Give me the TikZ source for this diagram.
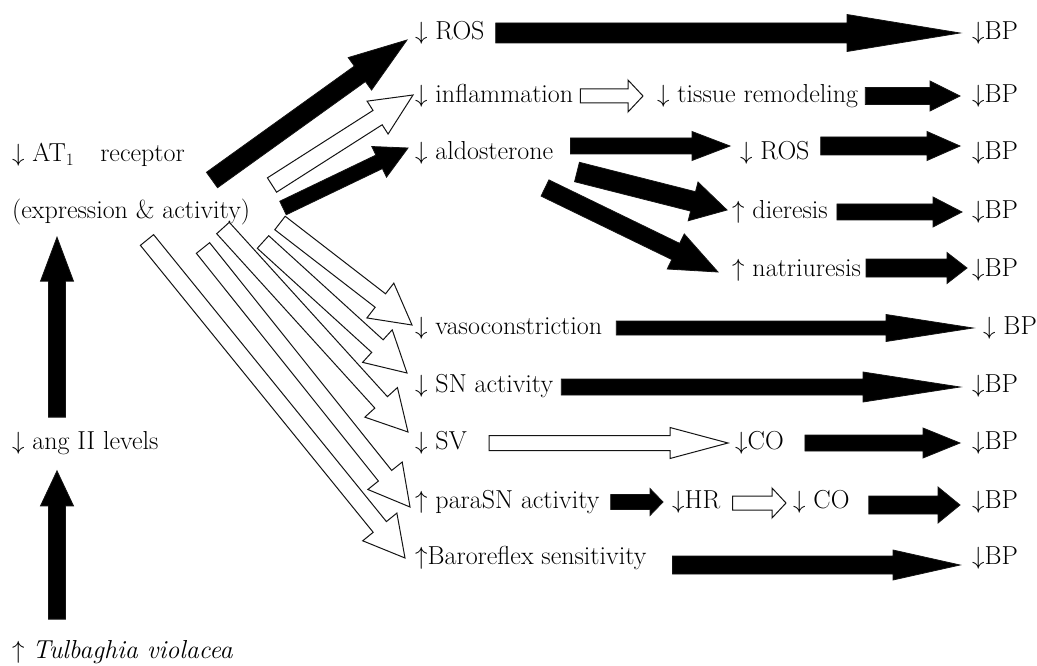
\documentclass[tikz,border=0pt]{standalone}
\usepackage{amsmath,amssymb}
\usetikzlibrary{calc}
\definecolor{fill_dark}{RGB}{0,0,0}
\definecolor{edge_dark}{RGB}{20,20,20}

% block arrow: style, tail, tip, shaft width, head width, head length
\newcommand{\blockarrow}[6]{%
  \coordinate (ba-t) at (#2);
  \coordinate (ba-p) at (#3);
  \coordinate (ba-h) at ($(ba-p)!#6pt!(ba-t)$);
  \draw[#1] ($(ba-t)!0.5*#4pt!90:(ba-p)$) -- ($(ba-h)!0.5*#4pt!90:(ba-p)$)
    -- ($(ba-h)!0.5*#5pt!90:(ba-p)$) -- (ba-p)
    -- ($(ba-h)!0.5*#5pt!-90:(ba-p)$) -- ($(ba-h)!0.5*#4pt!-90:(ba-p)$)
    -- ($(ba-t)!0.5*#4pt!-90:(ba-p)$) -- cycle;
}

\begin{document}
\begin{tikzpicture}[x=1pt,y=-1pt]
    \tikzstyle{term}=[anchor=west, inner sep=0pt, text=black, font=\fontsize{26}{30}\selectfont]
    \tikzstyle{fullarr}=[fill=fill_dark, draw=edge_dark, line width=0.8pt, line join=miter]
    \tikzstyle{hollowarr}=[fill=white, draw=edge_dark, line width=1pt, line join=miter]
    \tikzstyle{openarr}=[draw=edge_dark, line width=1pt, line join=miter]

    \fill[white] (0,0) rectangle (1037,666);
    \useasboundingbox (0,0) rectangle (1037,666);

    % left column
    \node[term] (at1)  at (12,155) {$\downarrow$ AT$_1$\quad receptor};
    \node[term] (expr) at (12,212) {(expression \& activity)};
    \node[term] (ang)  at (12,443) {$\downarrow$ ang II levels};
    \node[term] (tulb) at (12,652) {$\uparrow$ \textit{Tulbaghia violacea}};

    % middle column
    \node[term] (ros)  at (415,33)  {$\downarrow$ ROS};
    \node[term] (infl) at (415,96)  {$\downarrow$ inflammation};
    \node[term] (aldo) at (415,153) {$\downarrow$ aldosterone};
    \node[term] (vaso) at (415,328) {$\downarrow$ vasoconstriction};
    \node[term] (sn)   at (415,386) {$\downarrow$ SN activity};
    \node[term] (sv)   at (415,443) {$\downarrow$ SV};
    \node[term] (para) at (415,502) {$\uparrow$ paraSN activity};
    \node[term] (baro) at (415,558) {$\uparrow$Baroreflex sensitivity};

    \node[term] (tissue) at (657,96)  {$\downarrow$ tissue remodeling};
    \node[term] (ros2)   at (740,153) {$\downarrow$ ROS};
    \node[term] (dier)   at (732,212) {$\uparrow$ dieresis};
    \node[term] (natr)   at (732,270) {$\uparrow$ natriuresis};
    \node[term] (co1)    at (735,443) {$\downarrow$CO};
    \node[term] (hr)     at (672,502) {$\downarrow$HR};
    \node[term] (co2)    at (793,502) {$\downarrow$ CO};

    % right column
    \node[term] (bp1)  at (972,33)  {$\downarrow$BP};
    \node[term] (bp2)  at (972,96)  {$\downarrow$BP};
    \node[term] (bp3)  at (972,153) {$\downarrow$BP};
    \node[term] (bp4)  at (972,212) {$\downarrow$BP};
    \node[term] (bp5)  at (972,270) {$\downarrow$BP};
    \node[term] (bp6)  at (983,328) {$\downarrow$ BP};
    \node[term] (bp7)  at (972,386) {$\downarrow$BP};
    \node[term] (bp8)  at (972,443) {$\downarrow$BP};
    \node[term] (bp9)  at (972,502) {$\downarrow$BP};
    \node[term] (bp10) at (972,558) {$\downarrow$BP};

    % free tails of the fanned arrows
    \coordinate (t-ros)  at (212,180);
    \coordinate (t-infl) at (272,185);
    \coordinate (t-aldo) at (283,208);
    \coordinate (t-vaso) at (280,223);
    \coordinate (t-sn)   at (263,242);
    \coordinate (t-sv)   at (223,228);
    \coordinate (t-para) at (203,248);
    \coordinate (t-baro) at (147,240);
    \coordinate (t-dier) at (577,172);
    \coordinate (t-natr) at (545,188);

    % vertical arrows
    \blockarrow{fullarr}{$(tulb.north west)+(45,-21)$}{$(ang.south west)+(45,16)$}{17}{33}{35}
    \blockarrow{fullarr}{$(ang.north west)+(45,-14)$}{$(expr.south west)+(45,12)$}{17}{33}{44}

    % fan out of AT1
    \blockarrow{fullarr}{t-ros}{$(ros.west)+(-8,7)$}{19}{40}{58}
    \blockarrow{hollowarr}{t-infl}{$(infl.west)+(-2,-1)$}{17}{39}{42}
    \blockarrow{fullarr}{t-aldo}{$(aldo.west)+(-7,-5)$}{15}{34}{32}
    \blockarrow{openarr}{t-baro}{$(baro.west)+(-10,0)$}{17}{44}{40}
    \blockarrow{openarr}{t-para}{$(para.west)+(-5,5)$}{17}{44}{40}
    \blockarrow{openarr}{t-sv}{$(sv.west)+(-7,-11)$}{17}{44}{40}
    \blockarrow{openarr}{t-sn}{$(sn.west)+(-8,-13)$}{17}{44}{40}
    \blockarrow{openarr}{t-vaso}{$(vaso.west)+(-3,-3)$}{17}{44}{40}

    % aldosterone branches
    \blockarrow{fullarr}{t-dier}{$(dier.west)+(-5,-2)$}{20}{40}{35}
    \blockarrow{fullarr}{t-natr}{$(natr.west)+(-14,2)$}{18}{39}{47}

    % rows
    \blockarrow{fullarr}{$(ros.east)+(11,0)$}{$(bp1.west)+(-12,0)$}{20}{37}{113}
    \blockarrow{hollowarr}{$(infl.east)+(7,0)$}{$(tissue.west)+(-14,0)$}{14}{32}{15}
    \blockarrow{fullarr}{$(tissue.east)+(7,0)$}{$(bp2.west)+(-12,0)$}{17}{30}{30}
    \blockarrow{fullarr}{$(aldo.east)+(17,-7)$}{$(ros2.west)+(-10,-7)$}{16}{29}{38}
    \blockarrow{fullarr}{$(ros2.east)+(11,-7)$}{$(bp3.west)+(-12,-7)$}{18}{29}{33}
    \blockarrow{fullarr}{$(dier.east)+(9,0)$}{$(bp4.west)+(-10,0)$}{16}{30}{29}
    \blockarrow{fullarr}{$(natr.east)+(5,-2)$}{$(bp5.west)+(-5,-2)$}{18}{31}{20}
    \blockarrow{fullarr}{$(vaso.east)+(14,0)$}{$(bp6.west)+(-10,0)$}{14}{27}{87}
    \blockarrow{fullarr}{$(sn.east)+(8,1)$}{$(bp7.west)+(-12,1)$}{16}{30}{97}
    \blockarrow{hollowarr}{$(sv.east)+(22,0)$}{$(co1.west)+(-7,0)$}{15}{31}{58}
    \blockarrow{fullarr}{$(co1.east)+(21,0)$}{$(bp8.west)+(-12,0)$}{16}{30}{37}
    \blockarrow{fullarr}{$(para.east)+(11,0)$}{$(hr.west)+(-9,0)$}{15}{27}{13}
    \blockarrow{hollowarr}{$(hr.east)+(12,1)$}{$(co2.west)+(-7,1)$}{14}{30}{14}
    \blockarrow{fullarr}{$(co2.east)+(19,3)$}{$(bp9.west)+(-12,3)$}{18}{36}{22}
    \blockarrow{fullarr}{$(baro.east)+(26,7)$}{$(bp10.west)+(-12,7)$}{18}{30}{67}
  \end{tikzpicture}
\end{document}
